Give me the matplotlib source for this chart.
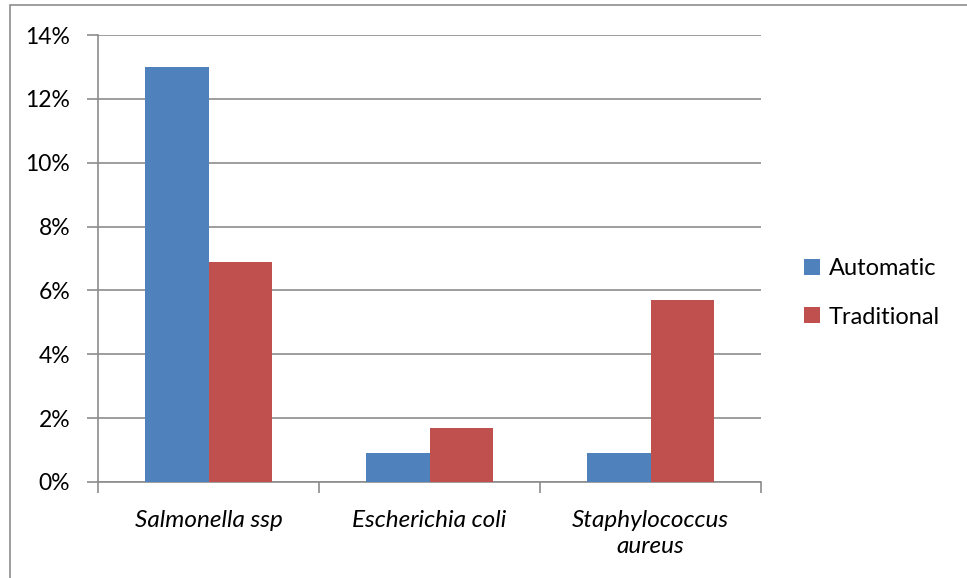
import matplotlib.pyplot as plt
import numpy as np
from matplotlib.patches import Rectangle
from matplotlib.ticker import FuncFormatter

categories = ["Salmonella ssp", "Escherichia coli", "Staphylococcus\naureus"]
automatic = [13.0, 0.9, 0.9]
traditional = [6.9, 1.7, 5.7]

plt.rcParams['font.family'] = ['Lato', 'DejaVu Sans']

W, H = 967, 578
fig = plt.figure(figsize=(W / 100, H / 100), dpi=100)

# chart frame (runs off the right and bottom edges)
fig.patches.append(Rectangle((10 / W, -0.1), 1.1, 1 - 5 / H + 0.1, transform=fig.transFigure,
                             fill=False, edgecolor='#8c8c8c', linewidth=1.2))

ax = fig.add_axes([98 / W, 1 - 482 / H, (761 - 98) / W, (482 - 35) / H])

x = np.arange(len(categories))
bw = 1 / 3.5
ax.bar(x - bw / 2, automatic, bw, color='#4f81bd', label='Automatic', zorder=3)
ax.bar(x + bw / 2, traditional, bw, color='#c0504d', label='Traditional', zorder=3)

ax.set_xlim(-0.5, 2.5)
ax.set_ylim(0, 14)
ax.set_yticks(np.arange(0, 15, 2))
ax.yaxis.set_major_formatter(FuncFormatter(lambda v, p: f"{v:.0f}%"))
ax.set_xticks([-0.5, 0.5, 1.5, 2.5])
ax.set_xticklabels([])
ax.set_xticks(x, minor=True)
ax.set_xticklabels(categories, minor=True, fontstyle='italic', fontsize=17.5,
                   linespacing=1.3)
ax.tick_params(axis='x', which='minor', length=0, pad=20)
ax.tick_params(axis='x', which='major', length=8, color='#8c8c8c', width=1.2)
ax.tick_params(axis='y', length=8, color='#8c8c8c', width=1.2, labelsize=16.5, pad=12)

ax.grid(axis='y', color='#8c8c8c', linewidth=1.2, zorder=0)
for s in ['top', 'right']:
    ax.spines[s].set_visible(False)
for s in ['left', 'bottom']:
    ax.spines[s].set_color('#8c8c8c')
    ax.spines[s].set_linewidth(1.2)

fig.legend(loc='center left', bbox_to_anchor=(783 / W, 1 - 293 / H), frameon=False,
           fontsize=17, handlelength=0.65, handleheight=0.65, handletextpad=0.4,
           labelspacing=1.15)

fig.savefig('out.png', dpi=100)
